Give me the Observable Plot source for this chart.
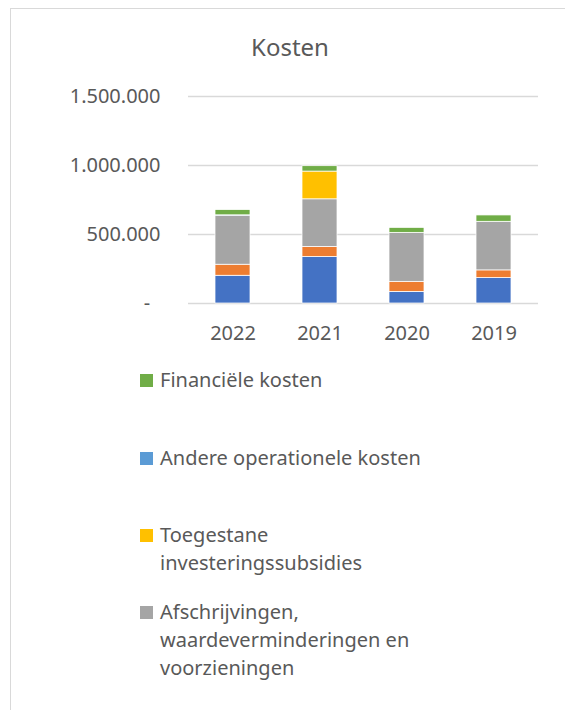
<!DOCTYPE html>
<html>
<head>
<meta charset="utf-8">
<script src="https://cdn.jsdelivr.net/npm/d3@7"></script>
<script src="https://cdn.jsdelivr.net/npm/@observablehq/plot@0.6"></script>
<style>
  html, body { margin: 0; padding: 0; background: #fff; width: 565px; height: 710px; overflow: hidden; }
  body { position: relative; font-family: "Noto Sans", sans-serif; color: #595959; }
  #frame { position: absolute; left: 10px; top: 8px; width: 700px; height: 800px;
           border-top: 1.5px solid #D9D9D9; border-left: 1.5px solid #D9D9D9; }
  #title { position: absolute; left: 0; width: 580px; top: 30px; text-align: center; font-size: 24px; }
  #chart { position: absolute; left: 0; top: 0; }
  .leg { position: absolute; left: 140px; font-size: 20px; line-height: 28px; }
  .leg .sw { position: absolute; left: 0; top: 8px; width: 13px; height: 13px; }
  .leg .tx { position: absolute; left: 20px; top: 0; white-space: nowrap; }
</style>
</head>
<body>
<div id="frame"></div>
<div id="chart"></div>
<div id="title">Kosten</div>
<div id="legend"></div>
<script>
const years = ["2022", "2021", "2020", "2019"];
const seriesNames = [
  "Bezoldigingen, sociale lasten en pensioenen",
  "Diensten en diverse goederen",
  "Afschrijvingen, waardeverminderingen en voorzieningen",
  "Toegestane investeringssubsidies",
  "Andere operationele kosten",
  "Financiële kosten"
];
const seriesColors = ["#4472C4", "#ED7D31", "#A5A5A5", "#FFC000", "#5B9BD5", "#70AD47"];
const bezoldigingen = [201000, 337000, 84000, 184000];
const diensten = [80000, 73000, 73000, 56000];
const afschrijvingen = [355000, 345000, 355000, 352000];
const subsidies = [0, 201000, 0, 0];
const andere = [3000, 0, 0, 0];
const financieel = [38000, 39000, 36000, 46000];
const yTicks = [0, 500000, 1000000, 1500000];

// Legend entries visible in the picture (top to bottom), with line breaks
const legendItems = [
  {name: "Financiële kosten", lines: ["Financiële kosten"], top: 366},
  {name: "Andere operationele kosten", lines: ["Andere operationele kosten"], top: 444},
  {name: "Toegestane investeringssubsidies", lines: ["Toegestane", "investeringssubsidies"], top: 521},
  {name: "Afschrijvingen, waardeverminderingen en voorzieningen", lines: ["Afschrijvingen,", "waardeverminderingen en", "voorzieningen"], top: 598}
];

const valuesBySeries = [bezoldigingen, diensten, afschrijvingen, subsidies, andere, financieel];
const data = [];
seriesNames.forEach((s, i) => {
  years.forEach((y, j) => data.push({year: y, series: s, value: valuesBySeries[i][j]}));
});

const fmt = d => d === 0 ? "-\u00a0\u00a0" : d3.format(",")(d).replace(/,/g, ".");

const plot = Plot.plot({
  width: 565,
  height: 360,
  marginTop: 96,
  marginBottom: 57,
  marginLeft: 188,
  marginRight: 27,
  style: {fontFamily: "Noto Sans", fontSize: "20px", color: "#595959", background: "transparent"},
  x: {domain: years, paddingInner: 0.6, paddingOuter: 0.3, label: null, tickSize: 0, tickPadding: 22},
  y: {domain: [0, 1500000], ticks: yTicks, tickFormat: fmt, label: null, tickSize: 0, tickPadding: 28},
  color: {domain: seriesNames, range: seriesColors},
  marks: [
    Plot.ruleY(yTicks, {stroke: "#D9D9D9", strokeWidth: 1.5}),
    Plot.barY(data, {x: "year", y: "value", fill: "series", stroke: "white", strokeWidth: 0.75, order: null}),
    Plot.axisX({tickSize: 0, tickPadding: 22, fontSize: 20}),
    Plot.axisY({ticks: yTicks, tickFormat: fmt, tickSize: 0, tickPadding: 28, fontSize: 20})
  ]
});
plot.querySelectorAll("text").forEach(t => t.setAttribute("fill", "#595959"));
document.getElementById("chart").appendChild(plot);

const leg = document.getElementById("legend");
legendItems.forEach(item => {
  const div = document.createElement("div");
  div.className = "leg";
  div.style.top = item.top + "px";
  const sw = document.createElement("div");
  sw.className = "sw";
  sw.style.background = seriesColors[seriesNames.indexOf(item.name)];
  const tx = document.createElement("div");
  tx.className = "tx";
  tx.innerHTML = item.lines.join("<br>");
  div.appendChild(sw);
  div.appendChild(tx);
  leg.appendChild(div);
});
</script>
</body>
</html>
